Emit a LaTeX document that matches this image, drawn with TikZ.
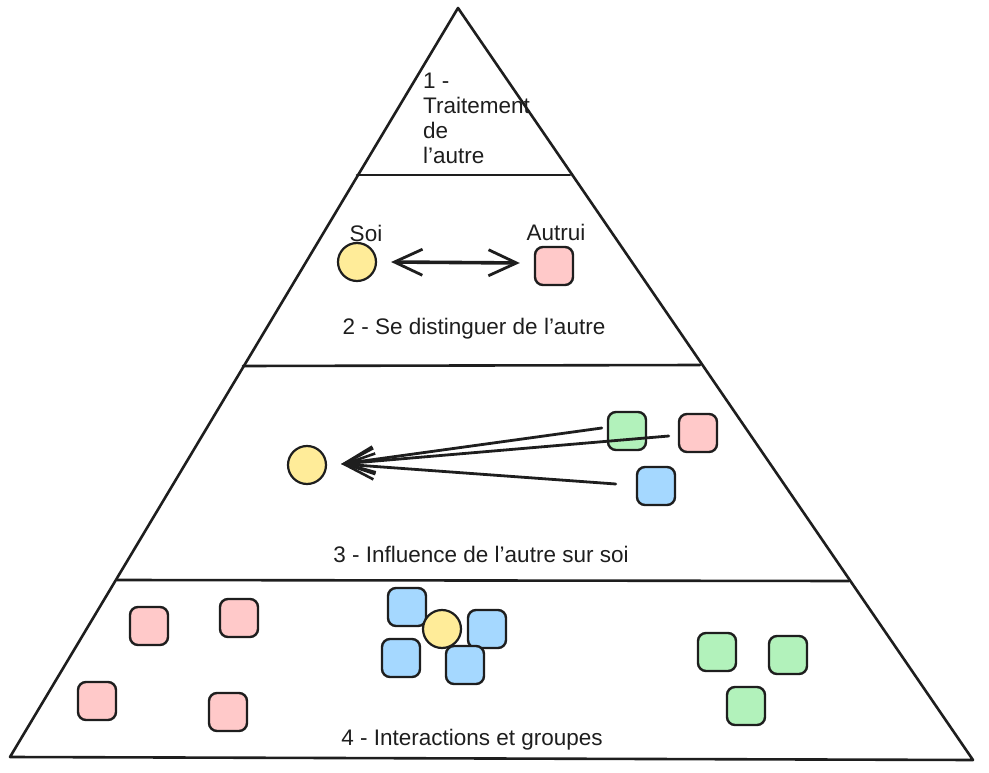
\documentclass[tikz,border=0pt]{standalone}
\usepackage{fontspec}
\setmainfont{Liberation Sans}
\usetikzlibrary{arrows.meta,calc}
\definecolor{ink}{HTML}{1E1E1E}
\definecolor{yel}{HTML}{FFEC99}
\definecolor{pnk}{HTML}{FFC9C9}
\definecolor{grn}{HTML}{B2F2BB}
\definecolor{blu}{HTML}{A5D8FF}
\begin{document}
\begin{tikzpicture}[x=1pt,y=-1pt,
  sq/.style={draw=ink,line width=2.4pt,rounded corners=8pt,minimum size=38pt,inner sep=0pt},
  dot/.style={circle,draw=ink,line width=2.2pt,fill=yel,minimum size=38pt,inner sep=0pt},
  lbl/.style={font=\fontsize{22.5}{25}\selectfont,text=ink,inner sep=0pt},
  edgeline/.style={draw=ink,line width=2.6pt,line cap=round,line join=round},
  arr/.style={draw=ink,line width=2.8pt,line cap=round,-{Straight Barb[length=30pt,width=26pt,line width=2.6pt]}},
  darr/.style={draw=ink,line width=3.6pt,line cap=round,{Straight Barb[length=28pt,width=26pt,line width=2.8pt]}-{Straight Barb[length=28pt,width=26pt,line width=2.8pt]}}]
\useasboundingbox (0,0) rectangle (989,773);
% pyramid
\coordinate (apex) at (458,8);
\coordinate (bl) at (10,757);
\coordinate (br) at (973,760);
\draw[edgeline] (bl) -- (apex) -- (br) -- cycle;
\coordinate (l1a) at (357,175); \coordinate (l1b) at (570,175);
\coordinate (l2a) at (243,366); \coordinate (l2b) at (700,365);
\coordinate (l3a) at (117,580); \coordinate (l3b) at (849,581);
\draw[edgeline] (l1a) -- (l1b);
\draw[edgeline] (l2a) -- (l2b);
\draw[edgeline] (l3a) -- (l3b);
% layer 1
\node[lbl,anchor=north west,align=left] (t1) at (423,73) {1 -\\Traitement\\de\\l'autre};
% layer 2
\node[lbl] (soi) at (366,233) {Soi};
\node[lbl] (autrui) at (556,232) {Autrui};
\node[dot] (s2) at (357,262) {};
\node[sq,fill=pnk] (a2) at (554,266) {};
\draw[darr] ($(s2.east)+(14,0)$) -- ($(a2.west)+(-14,-3)$);
\node[lbl] (t2) at (474,329) {2 - Se distinguer de l'autre};
% layer 3
\node[dot] (s3) at (307,465) {};
\node[sq,fill=grn] (g3) at (627,431) {};
\node[sq,fill=pnk] (p3) at (698,433) {};
\node[sq,fill=blu] (b3) at (656,486) {};
\coordinate (tip3) at ($(s3.east)+(14,-1)$);
\draw[arr] ($(g3.west)+(-5,-3)$) -- (tip3);
\draw[arr] ($(p3.west)+(-9,3)$) -- (tip3);
\draw[arr] ($(b3.west)+(-20,-2)$) -- (tip3);
\node[lbl] (t3) at (481,554) {3 - Influence de l'autre sur soi};
% layer 4
\node[sq,fill=pnk] (p41) at (149,626) {};
\node[sq,fill=pnk] (p42) at (239,618) {};
\node[sq,fill=pnk] (p43) at (97,701) {};
\node[sq,fill=pnk] (p44) at (228,712) {};
\node[sq,fill=blu] (b41) at (407,607) {};
\node[sq,fill=blu] (b42) at (487,629) {};
\node[sq,fill=blu] (b43) at (401,658) {};
\node[dot] (s4) at (442,629) {};
\node[sq,fill=blu] (b44) at (465,665) {};
\node[sq,fill=grn] (g41) at (717,652) {};
\node[sq,fill=grn] (g42) at (788,655) {};
\node[sq,fill=grn] (g43) at (746,706) {};
\node[lbl] (t4) at (472,740) {4 - Interactions et groupes};
\end{tikzpicture}
\end{document}
